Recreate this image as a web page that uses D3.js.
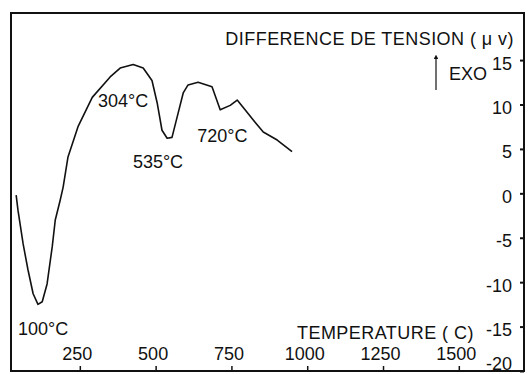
<!DOCTYPE html>
<html>
<head>
<meta charset="utf-8">
<script src="https://cdn.jsdelivr.net/npm/d3@7"></script>
<style>
  body { margin: 0; background: #fff; }
  svg { display: block; font-family: "Liberation Sans", Arial, sans-serif; }
</style>
</head>
<body>
<div id="chart"></div>
<script>
const WIDTH = 528;
const HEIGHT = 374;

// curve: temperature (C) and voltage difference (uV)
const temps = [40, 46, 63, 79, 96, 112, 126, 142, 159, 169, 185, 195, 211, 244, 291, 350, 383, 426,
  459, 488, 505, 521, 538, 554, 574, 591, 607, 640, 686, 713, 746, 769, 795, 828, 855, 901, 950];
const values = [-0.2, -1.9, -5.7, -8.6, -11.3, -12.5, -12.2, -10.2, -6.0, -3.0, -0.8, 0.7, 4.1, 7.5,
  10.8, 13.1, 14.1, 14.5, 14.1, 12.7, 10.2, 7.1, 6.2, 6.3, 9.0, 11.3, 12.2, 12.5, 12.0, 9.4, 9.9,
  10.5, 9.4, 8.0, 6.9, 6.0, 4.7];

const xTicks = [250, 500, 750, 1000, 1250, 1500];
const yTicks = [15, 10, 5, 0, -5, -10, -15, -20];

// peak labels, placed where they sit on the picture
const peakLabels = ['100°C', '304°C', '535°C', '720°C'];
const labelTemps = [46, 310, 425, 637];
const labelValues = [-15.95, 9.7, 2.85, 5.8];

const xDomain = [23, 1715];
const yDomain = [-20, 20.3];

const box = { left: 11, right: 524, top: 13, bottom: 371 };

const x = d3.scaleLinear().domain(xDomain).range([box.left, box.right]);
const y = d3.scaleLinear().domain(yDomain).range([box.bottom, box.top]);

const svg = d3.select('#chart')
  .append('svg')
  .attr('width', WIDTH)
  .attr('height', HEIGHT);

// frame
svg.append('rect')
  .attr('x', box.left)
  .attr('y', box.top)
  .attr('width', box.right - box.left)
  .attr('height', box.bottom - box.top)
  .attr('fill', 'none')
  .attr('stroke', '#111')
  .attr('stroke-width', 2);

// bottom axis, ticks pointing inside, labels above
const xAxis = svg.append('g')
  .attr('transform', `translate(0,${box.bottom})`)
  .call(d3.axisBottom(x).tickValues(xTicks).tickSize(-5).tickFormat((d) => String(d)));
xAxis.select('.domain').remove();
xAxis.selectAll('.tick line').attr('stroke', '#111').attr('stroke-width', 1.5);
xAxis.selectAll('.tick text')
  .attr('y', -11)
  .attr('dy', 0)
  .attr('dx', -3)
  .attr('font-size', 18)
  .attr('font-family', '"Liberation Sans", Arial, sans-serif')
  .attr('fill', '#111');

// right axis, ticks pointing inside, labels to the left
const yAxis = svg.append('g')
  .attr('transform', `translate(${box.right},0)`)
  .call(d3.axisLeft(y).tickValues(yTicks).tickSize(4).tickPadding(8).tickFormat((d) => String(d)));
yAxis.select('.domain').remove();
yAxis.selectAll('.tick line').attr('stroke', '#111').attr('stroke-width', 2);
yAxis.selectAll('.tick text')
  .attr('dy', (d) => (d === -20 ? '-0.1em' : '0.5em'))
  .attr('font-size', 18)
  .attr('font-family', '"Liberation Sans", Arial, sans-serif')
  .attr('fill', '#111');

// the curve
const line = d3.line()
  .x((d, i) => x(temps[i]))
  .y((d) => y(d));

svg.append('path')
  .datum(values)
  .attr('fill', 'none')
  .attr('stroke', '#111')
  .attr('stroke-width', 1.6)
  .attr('stroke-linejoin', 'round')
  .attr('d', line);

// peak annotations
svg.append('g')
  .selectAll('text')
  .data(peakLabels)
  .join('text')
  .attr('x', (d, i) => x(labelTemps[i]))
  .attr('y', (d, i) => y(labelValues[i]))
  .attr('font-size', 18)
  .attr('fill', '#111')
  .text((d) => d);

// axis titles
svg.append('text')
  .attr('x', 514)
  .attr('y', 45)
  .attr('text-anchor', 'end')
  .attr('font-size', 18)
  .attr('letter-spacing', 0.45)
  .attr('fill', '#111')
  .text('DIFFERENCE DE TENSION ( μ v)');

svg.append('text')
  .attr('x', 297)
  .attr('y', 339)
  .attr('font-size', 18)
  .attr('letter-spacing', 0.45)
  .attr('fill', '#111')
  .text('TEMPERATURE ( C)');

// EXO arrow
svg.append('defs').append('marker')
  .attr('id', 'arrow')
  .attr('viewBox', '0 0 10 10')
  .attr('refX', 5)
  .attr('refY', 5)
  .attr('markerWidth', 4)
  .attr('markerHeight', 4)
  .attr('orient', 'auto')
  .append('path')
  .attr('d', 'M0,0L10,5L0,10Z')
  .attr('fill', '#111');

svg.append('line')
  .attr('x1', 436)
  .attr('x2', 436)
  .attr('y1', 90)
  .attr('y2', 57)
  .attr('stroke', '#111')
  .attr('stroke-width', 1.2)
  .attr('marker-end', 'url(#arrow)');

svg.append('text')
  .attr('x', 449)
  .attr('y', 80)
  .attr('font-size', 18)
  .attr('fill', '#111')
  .text('EXO');
</script>
</body>
</html>
